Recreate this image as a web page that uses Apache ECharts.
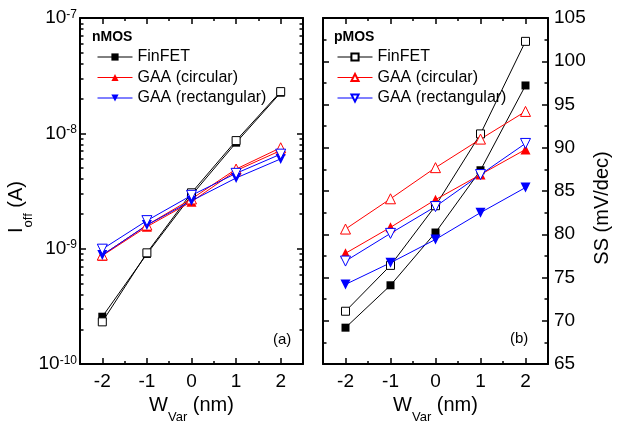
<!DOCTYPE html>
<html>
<head>
<meta charset="utf-8">
<script src="https://cdn.jsdelivr.net/npm/echarts@6/dist/echarts.min.js"></script>
<style>
  html, body { margin: 0; padding: 0; background: #fff; }
  #chart { width: 626px; height: 421px; }
</style>
</head>
<body>
<div id="chart"></div>
<script>
// Width variation (nm)
const wVar = [-2, -1, 0, 1, 2];
const wVarTicks = [-2, -1, 0, 1, 2];
const wVarMinorTicks = [-2.5, -1.5, -0.5, 0.5, 1.5, 2.5];

// nMOS off-state current (A)
const nFinFET      = [2.57e-10, 9.0e-10, 2.9e-9, 8.3e-9, 2.25e-8];
const nFinFETOpen  = [2.32e-10, 9.2e-10, 3.05e-9, 8.65e-9, 2.3e-8];
const nCirc        = [8.7e-10, 1.55e-9, 2.55e-9, 4.75e-9, 7.1e-9];
const nCircOpen    = [8.8e-10, 1.6e-9, 2.7e-9, 4.9e-9, 7.5e-9];
const nRect        = [8.8e-10, 1.6e-9, 2.6e-9, 4.1e-9, 6.0e-9];
const nRectOpen    = [9.9e-10, 1.75e-9, 2.9e-9, 4.5e-9, 6.6e-9];

// pMOS subthreshold swing (mV/dec)
const pFinFET      = [69.2, 74.1, 80.2, 87.4, 97.2];
const pFinFETOpen  = [71.1, 76.4, 83.3, 91.6, 102.3];
const pCirc        = [77.8, 80.8, 84.0, 86.9, 89.8];
const pCircOpen    = [80.6, 84.1, 87.7, 91.0, 94.2];
const pRect        = [74.2, 76.7, 79.4, 82.5, 85.4];
const pRectOpen    = [76.9, 80.1, 83.2, 86.9, 90.5];

// Axis ranges and ticks
const ioffRange = [1e-10, 1e-7];
const ioffMinorTicks = [];
for (let e = -10; e < -7; e++) {
  for (let m = 2; m <= 9; m++) ioffMinorTicks.push(m * Math.pow(10, e));
}
const ssRange = [65, 105];
const ssInterval = 5;

const FONT = 'Liberation Sans, Arial, Helvetica, sans-serif';
const BLACK = '#000000', RED = '#ff0000', BLUE = '#0000ff';
const DOWN_TRI = 'path://M0,0L10,0L5,10Z';

const legendNames = {
  nFin: 'FinFET', nCirc: 'GAA (circular)', nRect: 'GAA (rectangular)',
  pFinO: 'FinFET', pCircO: 'GAA (circular)', pRectO: 'GAA (rectangular)'
};

// Rich styles for axis titles: the subscript sits at the bottom of a taller line
const titleRich = {
  m: { fontSize: 20, lineHeight: 20, verticalAlign: 'top', color: BLACK, fontFamily: FONT },
  s: { fontSize: 13, lineHeight: 28, verticalAlign: 'bottom', color: BLACK, fontFamily: FONT }
};

function lineSeries(name, xi, yi, values, color, symbol, size, open) {
  return {
    name: name,
    type: 'line',
    xAxisIndex: xi,
    yAxisIndex: yi,
    data: wVar.map((w, i) => [w, values[i]]),
    symbol: symbol,
    symbolSize: size,
    showAllSymbol: true,
    lineStyle: { color: color, width: 1 },
    itemStyle: open
      ? { color: '#ffffff', borderColor: color, borderWidth: 1 }
      : { color: color, borderWidth: 0 },
    emphasis: { disabled: true },
    animation: false
  };
}

const axisLineStyle = { show: true, onZero: false, lineStyle: { color: BLACK, width: 2 } };
const hiddenLine = { show: false, onZero: false };

function xAxesFor(g) {
  const base = {
    type: 'value', gridIndex: g, min: -2.5, max: 2.5,
    splitLine: { show: false }
  };
  return [
    Object.assign({}, base, {
      position: 'bottom',
      axisLine: axisLineStyle,
      axisTick: { show: true, inside: true, length: 6, lineStyle: { color: BLACK, width: 1.5 }, customValues: wVarTicks },
      axisLabel: { show: true, customValues: wVarTicks, fontSize: 19, color: BLACK, fontFamily: FONT, margin: 8 },
      name: '{m|W}{s|Var}{m| (nm)}',
      nameLocation: 'middle',
      nameGap: 30,
      nameTextStyle: { rich: titleRich }
    }),
    Object.assign({}, base, {
      position: 'bottom',
      axisLine: hiddenLine,
      axisTick: { show: true, inside: true, length: 3, lineStyle: { color: BLACK, width: 1.5 }, customValues: wVarMinorTicks },
      axisLabel: { show: false }
    }),
    Object.assign({}, base, {
      position: 'top',
      axisLine: axisLineStyle,
      axisTick: { show: true, inside: true, length: 6, lineStyle: { color: BLACK, width: 1.5 }, customValues: wVarTicks },
      axisLabel: { show: false }
    }),
    Object.assign({}, base, {
      position: 'top',
      axisLine: hiddenLine,
      axisTick: { show: true, inside: true, length: 3, lineStyle: { color: BLACK, width: 1.5 }, customValues: wVarMinorTicks },
      axisLabel: { show: false }
    })
  ];
}

function logAxis(position, major, labels) {
  const ax = {
    type: 'log', logBase: 10, gridIndex: 0, position: position,
    min: ioffRange[0], max: ioffRange[1],
    splitLine: { show: false },
    axisLine: major ? axisLineStyle : hiddenLine,
    axisTick: major
      ? { show: true, inside: true, length: 6, lineStyle: { color: BLACK, width: 1.5 } }
      : { show: true, inside: true, length: 3.5, lineStyle: { color: BLACK, width: 1.5 }, customValues: ioffMinorTicks },
    axisLabel: { show: false }
  };
  if (labels) {
    ax.axisLabel = {
      show: true, margin: 3, color: BLACK,
      formatter: v => '{b|10}{s|' + Math.round(Math.log10(v)) + '}',
      rich: {
        b: { fontSize: 19, lineHeight: 19, verticalAlign: 'middle', color: BLACK, fontFamily: FONT },
        s: { fontSize: 12, lineHeight: 12, verticalAlign: 'top', padding: [0, 0, 12, 0], color: BLACK, fontFamily: FONT }
      }
    };
    ax.name = '{m|I}{s|off}{m| (A)}';
    ax.nameLocation = 'middle';
    ax.nameGap = 42;
    ax.nameTextStyle = { padding: [0, 32, 0, 0], rich: titleRich };
  }
  return ax;
}

function ssAxis(position, labels) {
  const ax = {
    type: 'value', gridIndex: 1, position: position,
    min: ssRange[0], max: ssRange[1], interval: ssInterval,
    splitLine: { show: false },
    axisLine: axisLineStyle,
    axisTick: { show: true, inside: true, length: 6, lineStyle: { color: BLACK, width: 1.5 } },
    minorTick: { show: true, splitNumber: 2, length: 3.5, lineStyle: { color: BLACK, width: 1.5 } },
    axisLabel: { show: false }
  };
  if (labels) {
    ax.axisLabel = { show: true, fontSize: 19, color: BLACK, fontFamily: FONT, margin: 6 };
    ax.name = 'SS (mV/dec)';
    ax.nameLocation = 'middle';
    ax.nameGap = 44;
    ax.nameTextStyle = { fontSize: 20, color: BLACK, fontFamily: FONT, padding: [0, 34, 0, 0] };
  }
  return ax;
}

function legendFor(left, names) {
  return {
    orient: 'vertical', left: left, top: 44, itemWidth: 35, itemHeight: 9, itemGap: 4.5,
    selectedMode: false, data: names,
    formatter: n => legendNames[n],
    lineStyle: { width: 1 },
    textStyle: { fontSize: 16, color: BLACK, fontFamily: FONT }
  };
}

const option = {
  backgroundColor: '#ffffff',
  animation: false,
  grid: [
    { left: 80, top: 18, width: 223, height: 346, outerBoundsMode: 'none', containLabel: false },
    { left: 323, top: 18, width: 225, height: 346, outerBoundsMode: 'none', containLabel: false }
  ],
  xAxis: xAxesFor(0).concat(xAxesFor(1)),
  yAxis: [
    logAxis('left', true, true),
    logAxis('left', false, false),
    logAxis('right', true, false),
    logAxis('right', false, false),
    ssAxis('left', false),
    ssAxis('right', true)
  ],
  legend: [
    legendFor(92, ['nFin', 'nCirc', 'nRect']),
    legendFor(332, ['pFinO', 'pCircO', 'pRectO'])
  ],
  graphic: [
    { type: 'text', x: 92, y: 37, style: { text: 'nMOS', font: 'bold 14px ' + FONT, fill: BLACK, verticalAlign: 'middle' } },
    { type: 'text', x: 334, y: 37, style: { text: 'pMOS', font: 'bold 14px ' + FONT, fill: BLACK, verticalAlign: 'middle' } },
    { type: 'text', x: 273, y: 340, style: { text: '(a)', font: '15px ' + FONT, fill: BLACK, verticalAlign: 'middle' } },
    { type: 'text', x: 510, y: 339, style: { text: '(b)', font: '15px ' + FONT, fill: BLACK, verticalAlign: 'middle' } }
  ],
  series: [
    lineSeries('nFin', 0, 0, nFinFET, BLACK, 'rect', 8, false),
    lineSeries('nFinO', 0, 0, nFinFETOpen, BLACK, 'rect', 8, true),
    lineSeries('nCirc', 0, 0, nCirc, RED, 'triangle', 10, false),
    lineSeries('nCircO', 0, 0, nCircOpen, RED, 'triangle', 10, true),
    lineSeries('nRect', 0, 0, nRect, BLUE, DOWN_TRI, 10, false),
    lineSeries('nRectO', 0, 0, nRectOpen, BLUE, DOWN_TRI, 10, true),
    lineSeries('pFin', 4, 5, pFinFET, BLACK, 'rect', 8, false),
    lineSeries('pFinO', 4, 5, pFinFETOpen, BLACK, 'rect', 8, true),
    lineSeries('pCirc', 4, 5, pCirc, RED, 'triangle', 10, false),
    lineSeries('pCircO', 4, 5, pCircOpen, RED, 'triangle', 10, true),
    lineSeries('pRect', 4, 5, pRect, BLUE, DOWN_TRI, 10, false),
    lineSeries('pRectO', 4, 5, pRectOpen, BLUE, DOWN_TRI, 10, true)
  ]
};

const chart = echarts.init(document.getElementById('chart'), null, { renderer: 'canvas' });
chart.setOption(option);
</script>
</body>
</html>
